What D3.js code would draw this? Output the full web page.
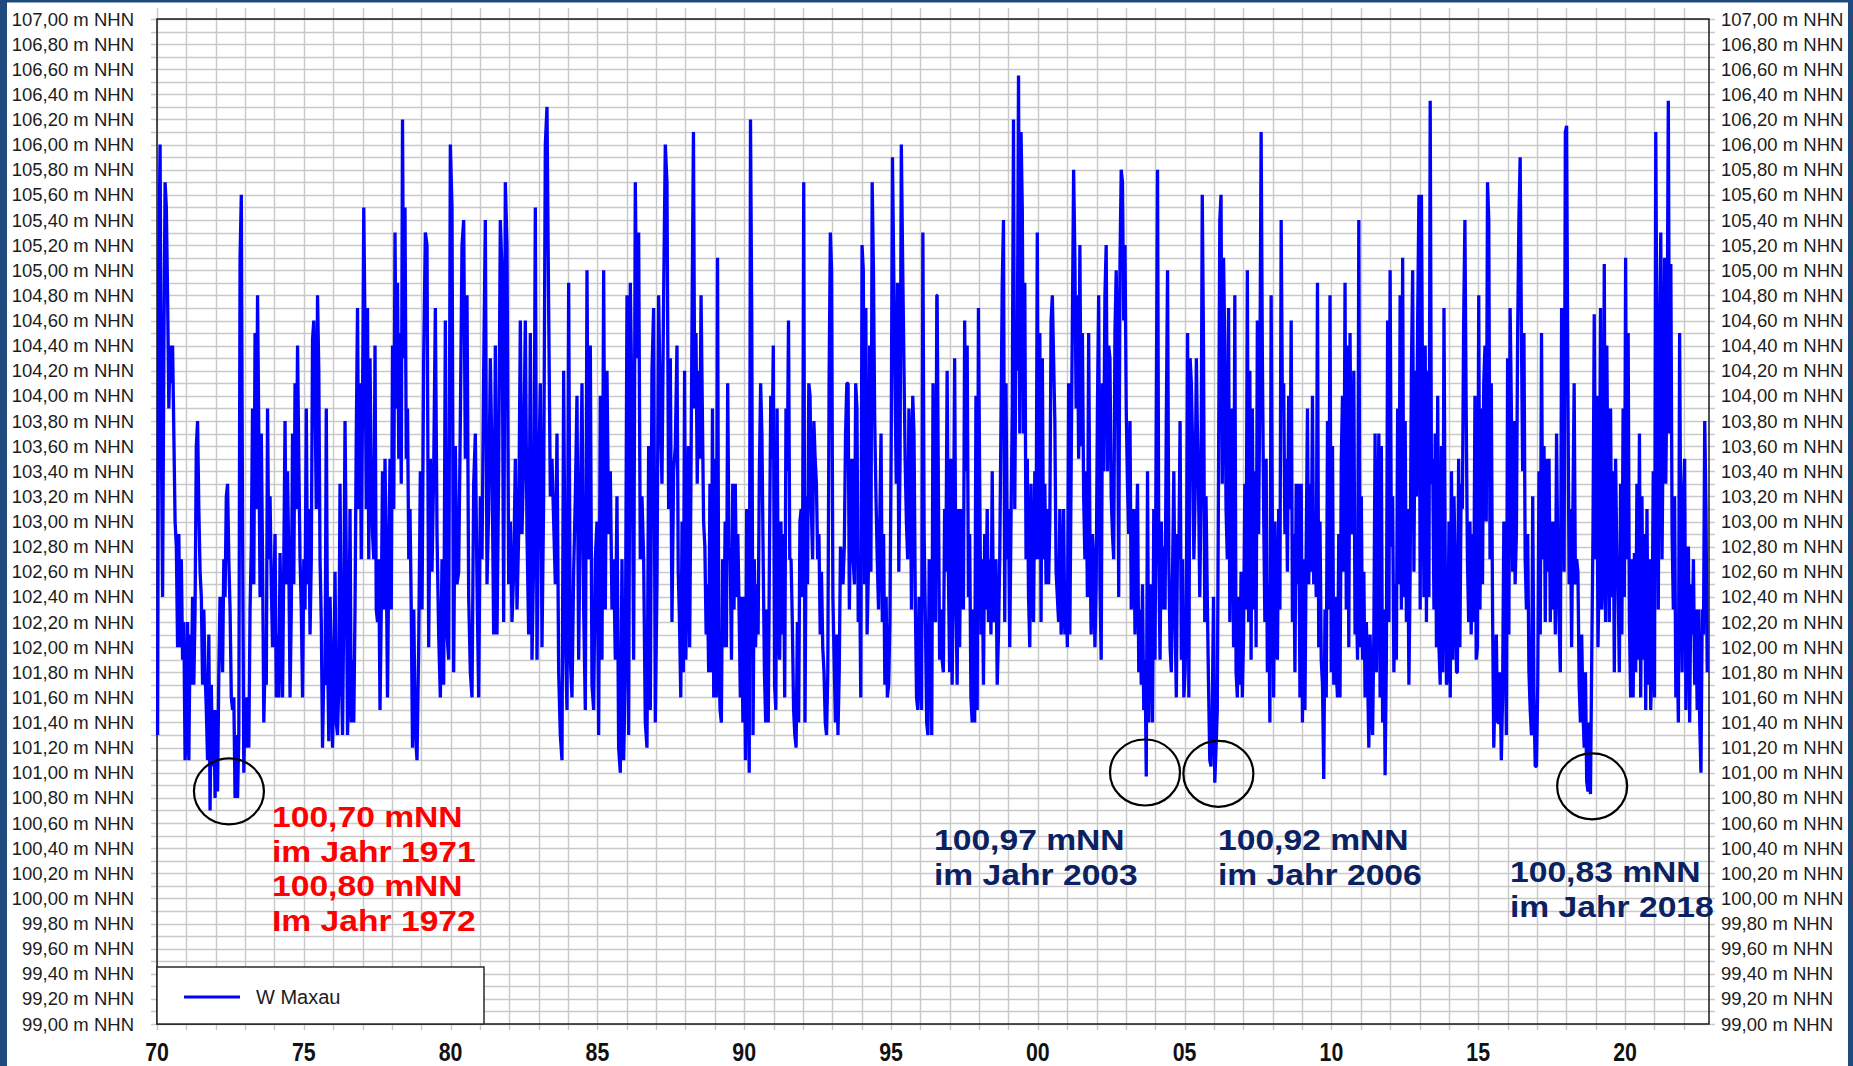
<!DOCTYPE html>
<html><head><meta charset="utf-8">
<script src="https://cdn.jsdelivr.net/npm/d3@7"></script>
<style>html,body{margin:0;padding:0;background:#fff;overflow:hidden}svg{display:block}</style>
</head><body>
<svg id="chart" width="1853" height="1066"></svg>
<script>
// ---------------- DATA ----------------
const seriesName = "W Maxau";
const level1970 = [101.3,105.1,106.0,103.7, 102.4,104.3,105.7,105.5, 104.8,103.9,104.4,104.1, 104.4,103.7,103.0,102.8, 102.0,102.9,102.0,102.7, 101.9,102.2,101.1,101.3,
102.2,101.1,102.1,101.7, 102.4,101.7,102.3,103.6, 103.8,103.1,102.6,102.4, 101.7,102.3,101.8,101.5, 101.1,102.1,100.7,101.7, 101.05,101.5,100.8,101.5,
100.85,101.8,102.4,102.3, 101.8,102.7,102.4,103.2, 103.3,102.7,102.3,101.6, 101.5,101.6,100.8,101.3, 100.8,101.3,105.1,105.6, 103.0,101.0,101.6,101.2,
101.6,101.2,102.3,102.8, 103.9,102.5,104.5,103.1, 104.8,103.7,102.4,103.7, 102.7,101.4,101.9,101.7, 103.9,102.7,103.2,102.5, 102.0,102.4,102.9,101.6,
102.1,101.6,102.75,102.1, 101.6,102.7,103.8,102.5, 103.4,102.7,101.6,102.3, 103.7,102.5,104.1,103.1, 104.4,103.5,102.7,102.3, 101.6,102.7,102.3,103.9,
102.5,103.1,102.1,102.7, 104.45,104.6,104.0,103.1, 104.8,104.2,102.7,102.2, 101.2,101.8,101.7,103.9, 102.0,101.25,102.4,101.9, 101.2,101.7,102.6,101.4,
101.3,101.7,103.3,101.9, 101.3,102.3,103.8,102.7, 101.3,101.8,103.1,101.4, 101.9,101.4,102.3,103.7, 104.7,103.1,104.1,102.7, 103.9,105.5,104.5,103.1,
104.7,102.7,104.3,103.3, 102.9,102.7,104.4,102.3, 102.2,102.7,101.5,102.3, 103.4,102.3,103.5,102.7, 101.6,102.7,103.5,102.3, 104.4,103.1,105.3,103.9,
104.9,103.5,104.5,103.3, 106.2,104.3,105.5,103.5, 103.9,102.7,103.1,102.3, 101.2,102.3,101.5,101.2];
const level1979 = [101.1,102.0,103.4,102.3,104.3,105.3,105.2,102.0,103.5,102.6,103.4,104.7,102.9,102.1,101.6,102.7,101.7,104.6,102.1,
101.9,106.0,105.5, 101.8,103.6,102.5, 102.6,103.8,105.2,105.4, 103.5,104.8,102.4,101.8, 101.6,103.3,103.7,102.5,
101.6,103.2,102.7,104.2, 105.4,102.5,103.1, 104.3,103.5,102.1, 104.4,102.1,103.4, 105.4,105.0,102.2, 105.7,105.2,102.5,103.0,
102.2,102.6,103.5,102.3, 102.9,104.6,102.9,103.5, 104.6,102.9,102.1,104.5, 101.9,102.7,105.5,101.9, 103.3,104.1,102.0,103.2,
106.0,106.3,104.7,103.2, 103.5,103.0,102.5,103.7, 101.8,101.3,101.1,104.2, 102.1,101.5,104.9,101.9, 101.6,102.6,103.2,104.0,
101.9,103.1,104.1,102.3, 101.5,105.0,102.7,104.4, 101.7,101.5,102.7,103.0, 101.3,104.0,101.9,105.0, 102.3,104.2,102.9,103.4,
102.3,102.7,101.9,103.2, 101.2,101.0,102.7,101.1, 101.8,104.8,101.3,104.9, 103.9,101.9,105.7,104.3, 105.3,102.7,103.2,102.7,
101.4,101.2,103.6,101.5, 104.2,104.7,101.4,102.5, 104.8,103.9,103.3,104.8, 106.0,105.7,103.1,104.3, 102.2,103.4,103.6];
const level1988 = [104.4,102.6,102.2,101.6, 103.0,101.8,104.2,101.9, 102.7,103.6,102.0,103.3, 104.8,106.1,103.9, 104.5,103.3,104.2,
103.5,104.8,103.9,103.0, 102.8,102.1,102.5,101.8, 103.3,101.8,103.9,101.6, 103.5,101.6,105.1,101.9, 101.5,101.4,102.7,102.0,
103.0,102.0,104.1,102.8, 102.7,101.9,103.3,102.3, 103.3,102.4,102.9,102.3, 101.6,102.4,101.4,102.4, 101.1,103.1,102.0,101.0,
106.2,104.6,101.3,102.7, 102.0,102.5,102.1,103.4, 104.1,103.7,102.7,101.8, 101.4,102.3,101.4,102.8, 104.0,103.5,104.4,101.7,
101.5,103.9,102.1,101.9, 103.0,102.1,102.9,101.6, 103.9,103.4,104.6,102.7, 102.7,102.2,101.5,101.3, 101.2,102.2,101.4,103.0,
103.1,102.4,105.7,101.4, 103.2,102.5,104.1,104.0, 103.1,102.7,103.8,103.5, 103.3,102.7,102.9,102.1, 102.6,102.0,101.8,101.4,
101.3,101.8,104.1,105.3, 105.0,102.4,101.9,101.4, 102.1,101.3,101.8,102.8, 102.7,102.5,102.8,103.7, 104.1,104.1,102.3,103.1,
103.5,102.7,102.5,104.1, 103.9,102.2,102.7,101.6, 105.2,105.0,102.5,104.7, 102.1,102.6,104.4,102.6, 105.7,105.0,103.8,103.2,
102.7,102.3,103.0,103.7, 102.2,102.9,101.7,102.4, 101.6,101.7,102.2,103.6, 105.9,105.0,104.1,103.3, 104.9,102.6,103.5,106.0,
105.1,104.3,103.5,103.0, 102.7,103.9,103.6,102.3, 104.0,103.7,102.4,101.6, 101.5,102.4,101.8,101.5, 105.3,102.9,102.2,101.4,
101.3,102.7,102.2,101.3, 104.1,102.3,102.2,104.8];
const level1997 = [104.8,103.3,101.9,102.3, 101.9,101.8,103.1,102.6, 104.2,102.6,101.8,103.5, 101.7,102.7,104.3,102.4, 101.7,103.1,102.0,103.1,
102.7,102.3,104.6,103.4, 104.4,102.4,102.9,101.6, 101.4,102.3,101.4,104.0, 101.5,104.7,103.3,102.1, 102.7,101.7,102.9,102.3,
103.1,102.2,102.7,102.1, 103.4,102.2,102.3,102.7, 101.7,102.1,102.7,103.8, 104.9,105.4,102.2,104.1, 102.7,103.1,102.0,103.0,
103.9,106.2,103.1,104.6, 104.2,106.55,103.7,106.1, 105.5,103.7,104.9,102.7, 103.5,102.4,102.0,103.3, 102.4,102.2,103.4,102.7,
105.3,102.7,104.5,102.2, 104.3,102.7,103.3,102.5, 103.1,102.5,103.0,104.6, 104.8,104.3,103.8,102.6, 102.4,102.2,103.1,102.1,
102.3,103.1,102.1,102.5, 102.0,104.1,102.1,103.4, 104.6,105.8,105.1,103.9, 104.8,103.5,105.2,103.6, 104.5,103.2,102.7,103.4,
102.4,104.5,102.9,102.1, 102.9,102.7,102.0,102.5, 103.9,104.8,102.5,101.9, 104.1,103.4,104.8,105.2, 103.4,104.4,104.3,103.2,
102.9,102.7,104.5,105.0, 104.3,102.4,105.05,105.8, 105.7,104.6,105.2,103.9, 103.3,102.9,103.8,102.3, 102.5,103.1,102.1,102.7,
103.3,101.8,102.3,101.7, 102.5,101.5,101.9,100.97, 103.4,101.4,102.5,102.3, 101.4,103.1,101.9,103.9, 105.8,102.7,101.9,103.0,
102.3,102.8,102.3,103.8, 105.0,102.7,102.0,101.8, 102.6,103.4,102.2,101.6, 102.9,102.7,103.8,101.9, 102.7,101.6,101.8,102.3,
104.5,101.6,104.3,104.1, 103.6,102.7,103.2,104.3];
const level2006 = [103.8,103.3,102.4,103.2, 105.6,104.4,102.2,103.2, 102.4,101.7,101.1,101.05, 101.5,102.4,100.92,101.2, 101.5,103.4,105.4,105.6,
103.3,105.1,104.4,103.1, 102.7,104.7,102.2,103.3, 103.9,102.0,104.8,101.8, 101.6,102.4,101.7,102.6, 101.6,102.1,103.3,102.3,
105.0,102.2,104.2,101.9, 103.9,102.3,103.4,102.0, 104.6,102.9,104.1,106.1, 104.3,103.1,102.2,103.5, 101.8,102.5,101.4,104.8,
102.9,101.6,103.0,102.1, 101.9,103.1,102.3,105.4, 103.9,104.1,102.9,103.5, 102.6,104.0,103.1,104.6, 102.2,102.9,101.8,103.3,
102.5,103.3,101.6,103.3, 101.4,102.7,101.5,102.8, 103.9,102.5,103.3,102.6, 104.0,102.5,103.0,102.4, 104.9,102.0,103.0,101.9,
101.7,100.95,102.3,101.6, 103.8,102.3,104.8,101.8, 103.6,101.7,102.4,101.8, 101.6,102.9,101.6,103.5, 104.0,102.6,104.9,102.3,
104.4,102.0,104.5,103.0, 102.9,104.2,102.1,102.4, 101.9,105.4,102.0,103.2, 101.9,102.6,101.6,102.2, 101.8,101.2,102.1,101.6,
101.3,102.1,103.7,101.8, 102.8,103.7,101.6,103.6, 101.4,102.3,100.98,101.9, 104.6,102.2,105.0,102.8, 103.2,101.8,102.5,101.9,
103.9,102.5,104.8,102.3, 105.1,102.4,103.8,102.2, 103.1,101.7,102.6,104.2, 105.0,102.6,104.2,103.2, 104.6,105.6,102.3,105.6,
103.8,102.4,104.4,102.2, 104.2,102.4,106.35,103.3, 103.5,102.3,103.7,102.0, 104.0,102.0,101.7,103.6, 101.8,104.7,102.7,101.7,
101.8,103.0,101.6,103.4, 101.9,103.2,102.6,101.8];
const level2014 = [101.8,103.5,102.0,103.3, 103.1,104.6,105.4,103.9, 102.7,102.2,103.0,102.1, 102.9,102.2,104.0,101.9, 102.0,104.8,102.3,103.9,
102.5,104.1,104.4,103.0, 105.7,105.4,102.7,104.1, 102.3,101.2,101.7,102.1, 101.4,101.4,101.8,101.1, 101.6,103.0,102.3,101.3,
104.3,102.1,104.7,103.9, 102.6,103.8,102.5,102.9, 104.5,105.4,105.9,104.5, 103.4,104.5,102.7,102.3, 102.9,101.8,101.5,101.3,
103.2,101.6,101.05,101.05, 101.7,103.4,102.1,104.5, 102.7,103.6,102.2,103.5, 102.6,103.5,102.2,103.0, 102.3,103.0,102.1,103.7,
102.7,102.2,101.8,104.7, 104.6,102.6,106.1,106.15, 104.1,102.5,103.1,102.0, 103.1,104.1,102.5,102.7, 102.6,101.7,101.4,102.1,
101.5,101.2,101.8,100.93, 100.85,101.4,100.83,101.9, 102.9,104.65,102.7,104.0, 102.0,102.7,104.7,102.3, 102.6,105.05,102.2,104.4,
103.1,102.2,103.9,102.4, 103.4,101.8,103.5,102.7, 102.5,101.8,103.3,102.1, 103.9,102.4,105.1,102.7, 104.5,102.2,101.6,102.7,
101.6,102.75,101.8,103.3, 101.9,103.7,101.6,103.2, 101.9,102.9,101.5,103.1, 101.7,102.7,101.5,102.0, 103.4,101.6,106.1,104.2,
102.3,104.4,105.3,102.7, 103.9,105.1,103.3,104.3, 106.35,103.7,105.05,102.9, 102.3,103.2,101.6,102.1, 101.4,104.5,102.7,101.8,
103.2,103.5,101.5,102.5, 102.8,101.4,102.5,102.1, 102.7,101.7,102.3,101.5, 102.3,101.4,101.0,102.3, 102.1,103.8,103.1,101.8];
// time span (decimal years) covered by each block of readings
const periodStart = [1970.02, 1978.856, 1987.71, 1996.57, 2005.43, 2014.29];
const periodEnd   = [1978.83, 1987.653, 1996.56, 2005.40, 2014.26, 2022.80];
const periods = [level1970, level1979, level1988, level1997, level2006, level2014];

// axis ticks
const xLabelYears = [1970,1975,1980,1985,1990,1995,2000,2005,2010,2015,2020];
const xLabels = ["70","75","80","85","90","95","00","05","10","15","20"];
const yLabelValues = d3.range(0,41).map(i => 99 + i*0.2);
const yGridValues = d3.range(0,81).map(i => 99 + i*0.1);
const xGridYears = d3.range(1970, 2023);

// annotations
const notesRed = ["100,70 mNN","im Jahr 1971","100,80 mNN","Im Jahr 1972"];
const notesBlue = [
  {lines:["100,97 mNN","im Jahr 2003"]},
  {lines:["100,92 mNN","im Jahr 2006"]},
  {lines:["100,83 mNN","im Jahr 2018"]}
];
const minima = [{t:1972.45, v:100.82},{t:2003.65, v:100.97},{t:2006.15, v:100.96},{t:2018.88, v:100.86}];

// ---------------- LAYOUT ----------------
const L = 157, R = 1709, T = 19, B = 1024;
const x = d3.scaleLinear().domain([1970, 2022.86]).range([L, R]);
const y = d3.scaleLinear().domain([99, 107]).range([B, T]);
const svg = d3.select("#chart");
const font = "'Liberation Sans', Arial, sans-serif";

svg.append("rect").attr("width",1853).attr("height",1066).attr("fill","#fff");
// navy page border
svg.append("rect").attr("x",0).attr("y",0).attr("width",7).attr("height",1066).attr("fill","#1f4a7e");
svg.append("rect").attr("x",0).attr("y",0).attr("width",1853).attr("height",2.5).attr("fill","#1f4a7e");
svg.append("rect").attr("x",1848).attr("y",0).attr("width",5).attr("height",1066).attr("fill","#1f4a7e");

// grid
const grid = svg.append("g").attr("stroke","#c9c9c9").attr("stroke-width",1.4);
grid.selectAll("line.h").data(yGridValues).join("line")
  .attr("x1",151).attr("x2",1715)
  .attr("y1",d=>Math.round(y(d))+0.5).attr("y2",d=>Math.round(y(d))+0.5);
grid.selectAll("line.v").data(xGridYears).join("line")
  .attr("y1",8).attr("y2",1030)
  .attr("x1",d=>Math.round(x(d))+0.5).attr("x2",d=>Math.round(x(d))+0.5);

// frame
svg.append("rect").attr("x",L).attr("y",T).attr("width",R-L).attr("height",B-T)
  .attr("fill","none").attr("stroke","#1a1a1a").attr("stroke-width",1.5);

// y labels both sides
const yl = svg.append("g").attr("font-family",font).attr("font-size",18.5).attr("fill","#1c1c1c");
const fmt = v => v.toFixed(2).replace(".",",") + " m NHN";
yl.selectAll("text.l").data(yLabelValues).join("text")
  .attr("x",134).attr("y",d=>y(d)+6.6).attr("text-anchor","end").text(fmt);
yl.selectAll("text.r").data(yLabelValues).join("text")
  .attr("x",1721).attr("y",d=>y(d)+6.6).attr("text-anchor","start").text(fmt);

// x labels
svg.append("g").selectAll("text").data(xLabelYears).join("text")
  .attr("transform",d=>`translate(${x(d)},1061) scale(0.82,1)`)
  .attr("text-anchor","middle").attr("font-family",font).attr("font-weight","bold")
  .attr("font-size",26).attr("fill","#111").text((d,i)=>xLabels[i]);

// data
const pts = [];
periods.forEach((arr,k) => {
  const n = arr.length, s = periodStart[k], e = periodEnd[k];
  arr.forEach((v,i) => pts.push({t: s + i*(e-s)/(n-1), v}));
});
const line = d3.line().x(d=>x(d.t)).y(d=>y(d.v));
svg.append("path").datum(pts).attr("d",line).attr("fill","none")
  .attr("stroke","#0000ff").attr("stroke-width",3.3).attr("stroke-linejoin","bevel");

// legend
const lg = svg.append("g");
lg.append("rect").attr("x",L).attr("y",967).attr("width",327).attr("height",B-967)
  .attr("fill","#fff").attr("stroke","#2a2a2a").attr("stroke-width",1.5);
lg.append("line").attr("x1",184).attr("x2",240).attr("y1",997).attr("y2",997)
  .attr("stroke","#0000ff").attr("stroke-width",3);
lg.append("text").attr("x",256).attr("y",1004).attr("font-family",font).attr("font-size",20)
  .attr("fill","#1c1c1c").text(seriesName);

// circles around minima
svg.append("g").selectAll("ellipse").data(minima).join("ellipse")
  .attr("cx",d=>x(d.t)).attr("cy",d=>y(d.v)-4).attr("rx",35).attr("ry",33)
  .attr("fill","none").attr("stroke","#000").attr("stroke-width",2.2);

// annotations
function note(g, lines, x0, y0, color){
  lines.forEach((s,i)=>{
    g.append("text").attr("transform",`translate(${x0},${y0+i*34.5}) scale(1.16,1)`)
      .attr("font-family",font).attr("font-weight","bold").attr("font-size",29)
      .attr("fill",color).text(s);
  });
}
const ann = svg.append("g");
note(ann, notesRed, 272, 827, "#ff0000");
note(ann, notesBlue[0].lines, 934, 850, "#0a2262");
note(ann, notesBlue[1].lines, 1218, 850, "#0a2262");
note(ann, notesBlue[2].lines, 1510, 882, "#0a2262");
</script>
</body></html>
